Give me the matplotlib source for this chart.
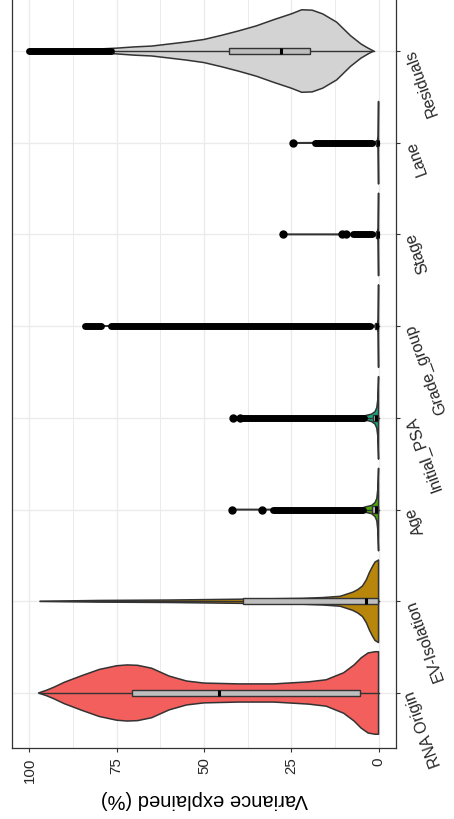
import numpy as np
import matplotlib
matplotlib.use("Agg")
import matplotlib.pyplot as plt

plt.rcParams['font.family'] = ['Liberation Sans', 'DejaVu Sans']

# variables, bottom to top
categories = ["RNA Origin", "EV-Isolation", "Age", "Initial_PSA",
              "Grade_group", "Stage", "Lane", "Residuals"]
fill_colors = ["#F25F5C", "#B8860B", "#4DA80A", "#19A97F",
               "#00B6EB", "#A58AFF", "#FB61D7", "#D3D3D3"]

# violin outlines: variance values and relative half-width (1 = widest)
rna_v = [0, 1, 3, 5, 7, 10, 15, 20, 30, 40, 50, 55, 60, 65, 69, 72, 75, 80, 85, 90, 93, 95, 97.4]
rna_w = [1.0, 1.0, 0.97, 0.85, 0.68, 0.49, 0.32, 0.27, 0.22, 0.22, 0.24, 0.29, 0.41, 0.6, 0.67, 0.68, 0.66, 0.57, 0.42, 0.26, 0.14, 0.07, 0.0]
ev_v = [0, 1, 1.7, 2.6, 3.5, 4.6, 6, 7.4, 11, 16, 22, 40, 60, 80, 97]
ev_w = [1.0, 0.95, 0.85, 0.7, 0.52, 0.37, 0.28, 0.22, 0.12, 0.09, 0.07, 0.05, 0.03, 0.02, 0.0]
age_v = [0, 0.2, 0.5, 1, 2, 3.5, 5, 10, 42]
age_w = [1.0, 0.5, 0.27, 0.17, 0.1, 0.07, 0.03, 0.01, 0.0]
psa_v = [0, 0.2, 0.5, 1, 2, 3.5, 5, 10, 41.6]
psa_w = [1.0, 0.45, 0.25, 0.15, 0.09, 0.06, 0.03, 0.01, 0.0]
grade_v = [0, 0.1, 0.3, 1, 3, 84]
grade_w = [1.0, 0.15, 0.05, 0.02, 0.01, 0.0]
stage_v = [0, 0.1, 0.3, 1, 3, 27.4]
stage_w = [1.0, 0.15, 0.05, 0.02, 0.01, 0.0]
lane_v = [0, 0.1, 0.3, 1, 3, 24.6]
lane_w = [1.0, 0.15, 0.05, 0.02, 0.01, 0.0]
resid_v = [1.4, 3, 5, 8, 12, 16, 19, 22, 25, 30, 35, 40, 45, 50, 55, 60, 65, 70, 75, 80, 90, 100]
resid_w = [0.0, 0.07, 0.17, 0.37, 0.7, 0.9, 0.99, 1.0, 0.9, 0.76, 0.61, 0.49, 0.38, 0.28, 0.22, 0.17, 0.12, 0.1, 0.07, 0.05, 0.03, 0.0]

violin_v = [rna_v, ev_v, age_v, psa_v, grade_v, stage_v, lane_v, resid_v]
violin_w = [rna_w, ev_w, age_w, psa_w, grade_w, stage_w, lane_w, resid_w]

# box statistics: q1, median, q3, lower whisker, upper whisker
q1 = [5.4, 0.1, 0.2, 0.2, 0.05, 0.05, 0.05, 19.7]
median = [45.7, 3.7, 0.8, 0.8, 0.3, 0.2, 0.2, 28.0]
q3 = [70.6, 38.9, 1.8, 1.7, 1.0, 0.8, 0.8, 42.9]
whisk_lo = [0, 0, 0, 0, 0, 0, 0, 1.4]
whisk_hi = [97.4, 97.0, 4.2, 3.9, 2.4, 1.9, 1.9, 76.3]

# outliers: single points and runs of overlapping points (from, to)
outlier_points = [[], [], [42.0, 33.4], [41.6, 39.8], [],
                  [27.4, 10.6, 9.3], [24.6], []]
outlier_runs = [[], [], [(30.3, 4.4)], [(38.8, 4.1)], [(84.0, 79.5), (76.5, 2.5)],
                [(7.2, 2.0)], [(18.3, 2.0)], [(100.0, 76.6)]]

value_ticks = [0, 25, 50, 75, 100]

edge = "#333333"
text_col = "#262626"
half = 0.45
box_half = 0.035

fig = plt.figure(figsize=(4.54, 8.2), dpi=100)
ax = fig.add_axes([12 / 454, 71 / 820, 384 / 454, 752 / 820])

for i, name in enumerate(categories):
    v = np.array(violin_v[i])
    w = np.array(violin_w[i]) * half
    xs = np.concatenate([v, v[::-1]])
    ys = np.concatenate([i + w, (i - w)[::-1]])
    ax.fill(xs, ys, facecolor=fill_colors[i], edgecolor=edge, lw=1.1,
            joinstyle="round", zorder=3)

    # whiskers
    ax.plot([q3[i], whisk_hi[i]], [i, i], color=edge, lw=1.0, zorder=4)
    ax.plot([q1[i], whisk_lo[i]], [i, i], color=edge, lw=1.0, zorder=4)
    # box + median
    ax.add_patch(plt.Rectangle((q1[i], i - box_half), q3[i] - q1[i], 2 * box_half,
                               facecolor="#BEBEBE", edgecolor=edge, lw=1.0, zorder=5))
    ax.plot([median[i], median[i]], [i - box_half, i + box_half], color="black",
            lw=2.2, zorder=6, solid_capstyle="butt")

    # outliers
    for a, b in outlier_runs[i]:
        ax.plot([a, b], [i, i], color="black", lw=5, solid_capstyle="round", zorder=7)
    if outlier_points[i]:
        ax.plot(outlier_points[i], [i] * len(outlier_points[i]), "o",
                color="black", ms=5, zorder=7)

ax.set_xlim(105, -5)
ax.set_ylim(-0.6, 7.6)

ax.set_xticks(value_ticks)
ax.set_xticklabels([str(t) for t in value_ticks], rotation=90, fontsize=10.8,
                   color=text_col)
ax.set_xticks([12.5, 37.5, 62.5, 87.5], minor=True)
ax.set_yticks(range(len(categories)))
ax.set_yticklabels(categories, rotation=110, ha="right", va="top",
                   rotation_mode="anchor", fontsize=11.5, color=text_col)
ax.tick_params(axis="y", left=False, right=True, labelleft=False, labelright=True,
               length=3, width=0.8, color=edge, pad=2)
ax.tick_params(axis="x", which="major", length=3, width=0.8, color=edge, pad=3)
ax.tick_params(axis="x", which="minor", length=0)

ax.grid(True, which="major", color="#EBEBEB", lw=1.0, zorder=0)
ax.grid(True, which="minor", axis="x", color="#EBEBEB", lw=0.7, zorder=0)
ax.set_axisbelow(True)
for s in ax.spines.values():
    s.set_color(edge)
    s.set_linewidth(0.9)

ax.set_xlabel("Variance explained (%)", rotation=180, fontsize=14.5, labelpad=5,
              color="black")

fig.savefig("out.png", dpi=100)
